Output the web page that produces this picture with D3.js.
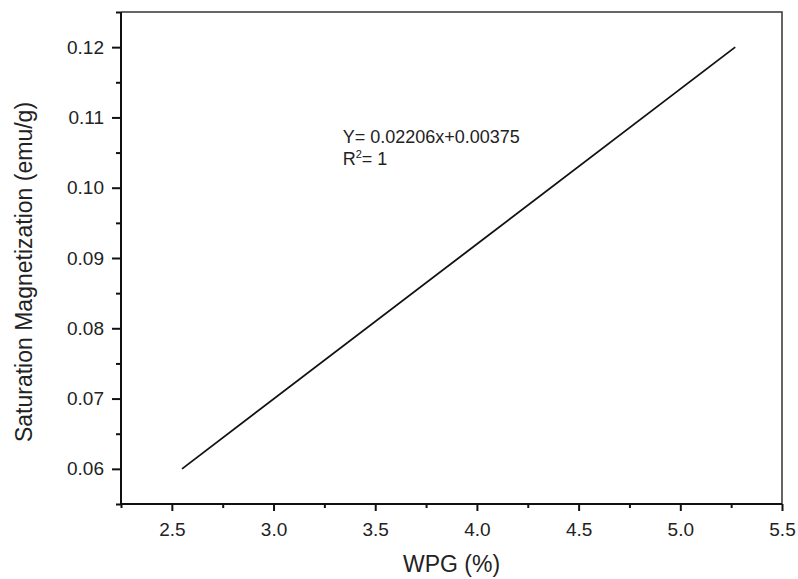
<!DOCTYPE html>
<html>
<head>
<meta charset="utf-8">
<script src="https://cdn.jsdelivr.net/npm/d3@7"></script>
<style>
  body { margin: 0; background: #fff; }
  text { font-family: "Liberation Sans", Arial, sans-serif; fill: #222; }
</style>
</head>
<body>
<div id="container"></div>
<script>
// data
var wpg = [2.55, 5.27];          // x, %
var satMag = [0.06, 0.12];       // y, emu/g
var xTicks = [2.5, 3.0, 3.5, 4.0, 4.5, 5.0, 5.5];
var yTicks = [0.06, 0.07, 0.08, 0.09, 0.10, 0.11, 0.12];
var fitLines = ['Y= 0.02206x+0.00375'];

var width = 798,
	height = 579;

var margin = { top: 12, right: 16, bottom: 75, left: 121 };
var w = width - margin.left - margin.right,
	h = height - margin.top - margin.bottom;

var svg = d3.select('#container').append('svg')
			.attr('width', width)
			.attr('height', height);

var xScale = d3.scaleLinear().domain([2.25, 5.5]).range([0, w]);
var yScale = d3.scaleLinear().domain([0.055, 0.125]).range([h, 0]);

var g = svg.append('g')
			.attr('transform', 'translate(' + margin.left + ',' + margin.top + ')');

// frame top + right
g.append('path')
	.attr('d', 'M0,0H' + w + 'V' + h)
	.attr('fill', 'none')
	.attr('stroke', '#333')
	.attr('stroke-width', 1.5);

// minor ticks
var xMinor = xTicks.slice(0, -1).map((d) => d + 0.25).concat([2.25]);
var yMinor = yTicks.map((d) => d + 0.005).concat([0.055]).filter((d) => d <= 0.125);

var xAxis = g.append('g')
	.attr('transform', 'translate(0,' + h + ')')
	.call(d3.axisBottom(xScale).tickValues(xTicks).tickFormat(d3.format('.1f')).tickSize(7).tickPadding(12));

g.append('g')
	.attr('transform', 'translate(0,' + h + ')')
	.call(d3.axisBottom(xScale).tickValues(xMinor).tickFormat('').tickSize(4))
	.call((s) => s.select('.domain').remove());

var yAxis = g.append('g')
	.call(d3.axisLeft(yScale).tickValues(yTicks).tickFormat(d3.format('.2f')).tickSize(9).tickPadding(8));

g.append('g')
	.call(d3.axisLeft(yScale).tickValues(yMinor).tickFormat('').tickSize(5))
	.call((s) => s.select('.domain').remove());

g.selectAll('.domain').attr('stroke', '#111').attr('stroke-width', 2);
g.selectAll('.tick line').attr('stroke', '#111').attr('stroke-width', 2);
g.selectAll('.tick text').style('font-size', '19px').attr('fill', '#222');
xAxis.select('.domain').attr('d', 'M0,0H' + w);
yAxis.select('.domain').attr('d', 'M0,0V' + h);

// the fit line
var pts = wpg.map((d, i) => [d, satMag[i]]);
g.append('path')
	.datum(pts)
	.attr('fill', 'none')
	.attr('stroke', '#111')
	.attr('stroke-width', 1.8)
	.attr('d', d3.line().x((d) => xScale(d[0])).y((d) => yScale(d[1])));

// equation
g.append('text')
	.attr('x', xScale(3.34))
	.attr('y', yScale(0.1064))
	.style('font-size', '18px')
	.text(fitLines[0]);

var r2 = g.append('text')
	.attr('x', xScale(3.34))
	.attr('y', yScale(0.1032))
	.style('font-size', '18px');
r2.append('tspan').text('R');
r2.append('tspan').attr('dy', -7).style('font-size', '11px').text('2');
r2.append('tspan').attr('dy', 7).text('= 1');

// axis titles
svg.append('text')
	.attr('x', margin.left + w / 2)
	.attr('y', 572)
	.attr('text-anchor', 'middle')
	.style('font-size', '23px')
	.text('WPG (%)');

svg.append('text')
	.attr('transform', 'translate(32,' + (margin.top + h / 2 + 14) + ') rotate(-90)')
	.attr('text-anchor', 'middle')
	.style('font-size', '23px')
	.text('Saturation Magnetization (emu/g)');
</script>
</body>
</html>
